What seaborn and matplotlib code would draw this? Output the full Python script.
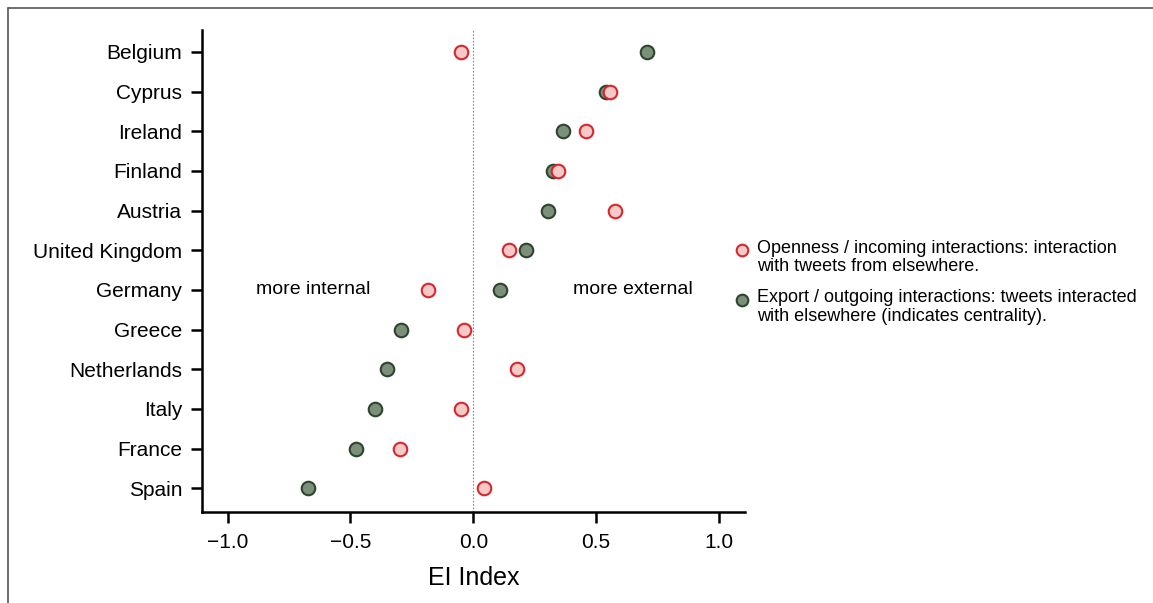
import matplotlib
matplotlib.use("Agg")
import matplotlib.pyplot as plt
import seaborn as sns
import pandas as pd
from matplotlib.lines import Line2D

countries = ["Belgium", "Cyprus", "Ireland", "Finland", "Austria", "United Kingdom",
             "Germany", "Greece", "Netherlands", "Italy", "France", "Spain"]
openness = [-0.05, 0.555, 0.46, 0.345, 0.575, 0.147, -0.183, -0.037, 0.179, -0.049, -0.297, 0.045]
export = [0.708, 0.542, 0.363, 0.326, 0.305, 0.216, 0.11, -0.293, -0.35, -0.399, -0.477, -0.672]

lab_open = "Openness / incoming interactions: interaction\nwith tweets from elsewhere."
lab_exp = "Export / outgoing interactions: tweets interacted\nwith elsewhere (indicates centrality)."

open_face, open_edge = "#f6c9c9", "#d8262c"
exp_face, exp_edge = "#7b8f7b", "#2c452c"

sns.set_theme(style="ticks")
plt.rcParams['font.family'] = ['Liberation Sans', 'DejaVu Sans']
plt.rcParams.update({"text.color": "black", "axes.labelcolor": "black",
                     "xtick.color": "black", "ytick.color": "black"})

fig = plt.figure(figsize=(11.53, 6.03), dpi=100)
ax = fig.add_axes([0.175, 0.151, 0.471, 0.799])

df_o = pd.DataFrame({"country": countries, "EI": openness})
df_e = pd.DataFrame({"country": countries, "EI": export})

ax.axvline(0, color="#888888", lw=0.8, ls=(0, (1.5, 1.5)), zorder=0)

sns.scatterplot(data=df_e, x="EI", y="country", ax=ax, s=95, color=exp_face,
                edgecolor=exp_edge, linewidth=1.5, zorder=3, legend=False)
sns.scatterplot(data=df_o, x="EI", y="country", ax=ax, s=95, color=open_face,
                edgecolor=open_edge, linewidth=1.5, zorder=3, legend=False)

ax.set_xlim(-1.105, 1.105)
ax.set_ylim(11.6, -0.55)
ax.set_xticks([-1.0, -0.5, 0.0, 0.5, 1.0])
ax.set_xticklabels(["\u22121.0", "\u22120.5", "0.0", "0.5", "1.0"])
ax.set_xlabel("EI Index", fontsize=18, labelpad=10)
ax.set_ylabel("")
ax.tick_params(axis="both", labelsize=15, length=8, width=1.8, pad=6)
ax.tick_params(axis="x", pad=7)
for s in ["left", "bottom"]:
    ax.spines[s].set_linewidth(1.8)
    ax.spines[s].set_color("black")
sns.despine(ax=ax)

ax.text(-0.65, 6, "more internal", ha="center", va="center", fontsize=14)
ax.text(0.65, 6, "more external", ha="center", va="center", fontsize=14)

# legend (manual, markers aligned with first line of each entry)
ax.scatter([0.6435], [0.5854], transform=fig.transFigure, s=70, color=open_face,
           edgecolor=open_edge, linewidth=1.5, clip_on=False)
ax.scatter([0.6435], [0.5025], transform=fig.transFigure, s=70, color=exp_face,
           edgecolor=exp_edge, linewidth=1.5, clip_on=False)
fig.text(0.6566, 0.573, lab_open, ha="left", va="center", fontsize=13, linespacing=1.15)
fig.text(0.6566, 0.491, lab_exp, ha="left", va="center", fontsize=13, linespacing=1.15)

# figure border (top and left)
fig.add_artist(Line2D([0.007, 1.0], [0.987, 0.987], transform=fig.transFigure,
                      color="#555555", lw=1.2))
fig.add_artist(Line2D([0.007, 0.007], [0.0, 0.987], transform=fig.transFigure,
                      color="#555555", lw=1.2))

fig.savefig("out.png", dpi=100)
